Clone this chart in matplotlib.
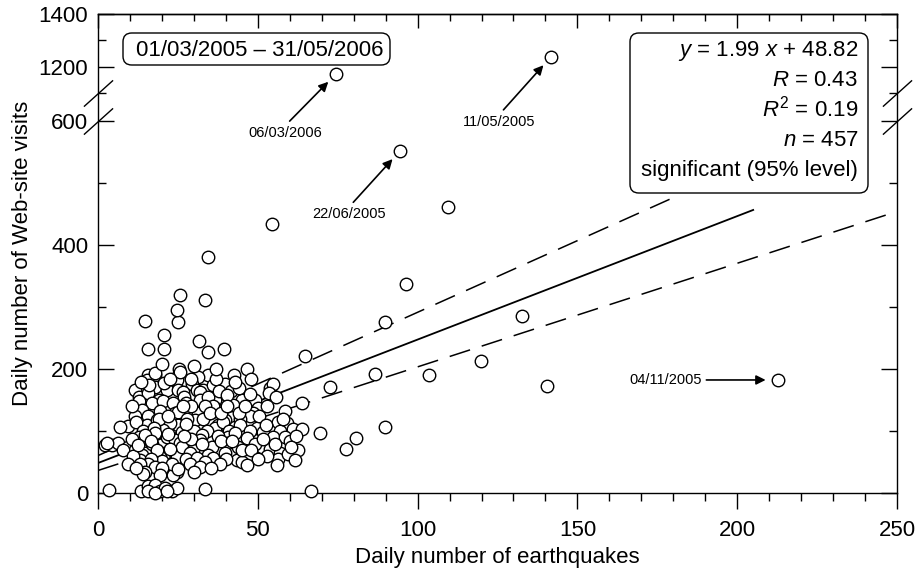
import numpy as np
import matplotlib.pyplot as plt
from matplotlib.patches import FancyBboxPatch

plt.rcParams['font.family'] = ['Liberation Sans', 'DejaVu Sans']
plt.rcParams['mathtext.fontset'] = 'custom'
plt.rcParams['mathtext.rm'] = 'Liberation Sans'
plt.rcParams['mathtext.it'] = 'Liberation Sans:italic'

# (daily earthquakes, daily web-site visits)
days = [
    # sparse / outliers
    (212.8, 182.7), (141.7, 1238), (74.5, 1174), (94.5, 552), (109.5, 462),
    (54.4, 434), (96.4, 338), (132.7, 286), (89.8, 276), (34.4, 381),
    (119.8, 213), (140.5, 173), (103.6, 191), (86.7, 192), (72.6, 172),
    (77.6, 71), (80.7, 89), (89.8, 107), (69.5, 97), (66.6, 4), (64.8, 222),
    # upper part of the cluster
    (14.7, 278), (25.1, 276), (24.6, 295), (25.7, 319), (33.5, 311),
    (20.5, 255), (15.5, 232), (20.7, 232), (31.6, 245), (34.5, 227),
    (39.5, 233), (46.5, 201),
    # 150-200
    (42.5, 190), (34.5, 190), (24.6, 188), (15.5, 190), (17.8, 191),
    (25.4, 200), (31.4, 188), (15.2, 183), (17.8, 194), (24.6, 183),
    (25.7, 196), (39.7, 177), (29.3, 177), (17.8, 172), (11.6, 167),
    (12.9, 156), (15.7, 161), (21.5, 167), (25.1, 167), (26.7, 163),
    (30.9, 167), (33.0, 167), (31.9, 163), (36.6, 150), (45.0, 151),
    (48.6, 149), (53.8, 169), (54.9, 177), (53.5, 162), (55.6, 156),
    (49.0, 150), (63.7, 146), (19.0, 150), (16.0, 175), (13.5, 180),
    (20.5, 178), (22.5, 185), (27.0, 155), (32.0, 150), (34.5, 155),
    (29.0, 185), (36.0, 175), (37.0, 185), (38.0, 165), (41.5, 165),
    (44.0, 170), (47.5, 160), (43.0, 180), (48.0, 185), (37.0, 200),
    (30.0, 205), (20.0, 208),
    # 100-150
    (12.9, 148), (16.8, 145), (20.4, 148), (23.6, 145), (13.7, 134),
    (19.4, 132), (24.1, 129), (11.6, 124), (15.7, 124), (28.3, 129),
    (25.1, 131), (31.4, 129), (36.6, 137), (36.1, 141), (42.3, 142),
    (50.2, 137), (48.6, 129), (47.6, 124), (58.5, 132), (39.7, 118),
    (42.9, 107), (49.7, 105), (37.6, 110), (36.6, 106), (39.2, 115),
    (56.4, 115), (59.0, 113), (61.1, 103), (63.7, 103), (9.5, 108),
    (15.2, 110), (6.9, 107), (21.0, 107), (25.1, 110), (22.5, 113),
    (28.8, 107), (20.4, 102), (26.2, 99.5), (51.7, 99), (18.5, 118),
    (30.5, 118), (44.5, 120), (33.5, 140), (27.5, 146), (40.5, 158),
    (10.5, 140), (12.0, 115), (14.0, 100), (19.0, 120), (17.5, 105),
    (29.0, 140), (28.0, 120), (33.0, 120), (35.0, 130), (30.0, 100),
    (34.0, 100), (26.5, 140), (22.0, 125), (27.5, 112), (38.5, 130),
    (40.5, 140), (44.0, 130), (46.0, 140), (41.0, 100), (44.5, 110),
    (47.5, 100), (50.5, 125), (52.5, 110), (57.0, 100), (58.0, 120),
    (53.0, 140),
    # 50-100
    (2.2, 78), (4.3, 78), (6.4, 81), (2.7, 81), (9.5, 75), (12.9, 91),
    (17.8, 97), (14.7, 94), (21.5, 91), (24.1, 86), (11.6, 70), (7.9, 70),
    (14.7, 64.5), (13.7, 62), (18.4, 59), (21.0, 64.5), (24.1, 64.5),
    (19.4, 59), (24.6, 59), (13.1, 54), (32.4, 94), (40.8, 91), (42.9, 97),
    (46.5, 89), (54.9, 91), (58.5, 91), (31.9, 86), (25.7, 81), (40.3, 81),
    (43.9, 75), (35.6, 75), (26.2, 75), (29.8, 70), (28.8, 64.5),
    (39.7, 64.5), (34.5, 62), (36.0, 57), (47.0, 59), (51.2, 75),
    (53.8, 72), (57.0, 65.5), (56.4, 56), (59.5, 63), (62.7, 70),
    (61.6, 54), (43.4, 54), (45.0, 50), (29.0, 88), (37.5, 92),
    (49.0, 80), (17.0, 80), (10.5, 88), (16.5, 85), (11.0, 60),
    (18.5, 70), (20.0, 52), (12.5, 78), (22.0, 95), (22.5, 72),
    (16.5, 55), (27.0, 92), (32.5, 80), (27.5, 55), (31.0, 57),
    (33.5, 50), (38.5, 85), (42.0, 85), (45.0, 70), (48.0, 70),
    (40.0, 55), (51.5, 88), (53.0, 60), (55.5, 80), (50.0, 55),
    (60.0, 85), (62.0, 92), (60.5, 75),
    # below 50
    (9.5, 48), (15.7, 48), (13.1, 47), (17.8, 43), (14.7, 35), (14.2, 31),
    (24.6, 35), (23.6, 30), (23.0, 48), (28.8, 48), (25.1, 39),
    (38.2, 48), (31.9, 43), (20.0, 40), (19.5, 30), (12.0, 40),
    (30.0, 35), (35.5, 40), (46.5, 45), (56.0, 45),
    # bottom row
    (3.5, 6), (13.5, 4), (15.7, 12), (17.8, 13), (19.4, 4), (21.0, 8),
    (23.0, 4), (24.6, 8), (33.5, 7), (15.7, 3), (17.8, 0.5), (21.5, 3),
]
quakes = np.array([d[0] for d in days])
visits = np.array([d[1] for d in days])

# regression and the dashed 95% bounds: slope, intercept, x end
fit_line = (1.99, 48.82, 205)
fit_upper = (2.31, 60.8, 179)
fit_lower = (1.67, 36.8, 250)

stats_lines = [r'$y$ = 1.99 $x$ + 48.82', r'$R$ = 0.43', r'$R^2$ = 0.19',
               r'$n$ = 457', 'significant (95% level)']
period = '01/03/2005 \u2013 31/05/2006'

# labelled days: text, point index, text position
labelled = [('06/03/2006', 2, (58.5, 581)), ('22/06/2005', 3, (78.5, 450)),
            ('11/05/2005', 1, (125.5, 599))]

# broken y axis: 0..621.5 at full scale, 1047..1400 squeezed on top
LOW_TOP, HIGH_BOT, SQUEEZE, GAP = 621.5, 1047.0, 0.427, 1e-3
D1 = LOW_TOP + (HIGH_BOT - LOW_TOP) * GAP


def fwd(y):
    y = np.asarray(y, dtype=float)
    mid = LOW_TOP + (y - LOW_TOP) * GAP
    top = D1 + (y - HIGH_BOT) * SQUEEZE
    return np.where(y <= LOW_TOP, y, np.where(y >= HIGH_BOT, top, mid))


def inv(d):
    d = np.asarray(d, dtype=float)
    mid = LOW_TOP + (d - LOW_TOP) / GAP
    top = HIGH_BOT + (d - D1) / SQUEEZE
    return np.where(d <= LOW_TOP, d, np.where(d >= D1, top, mid))


fig = plt.figure(figsize=(9.24, 5.73), dpi=100)
ax = fig.add_axes([98/924, 1-493.3/573, 799/924, 479.3/573])
ax.set_yscale('function', functions=(fwd, inv))
ax.set_xlim(0, 250)
ax.set_ylim(0, 1400)

for s, b, xe in (fit_upper, fit_lower):
    xx = np.array([0, xe])
    ax.plot(xx, s*xx + b, color='black', lw=1.1, ls=(0, (14, 8)), zorder=2)
xx = np.array([0, fit_line[2]])
ax.plot(xx, fit_line[0]*xx + fit_line[1], color='black', lw=1.3, zorder=2)

ax.plot(quakes, visits, 'o', ms=9, mfc='white', mec='black', mew=1.0,
        zorder=3, clip_on=False)

for txt, i, (tx, ty) in labelled:
    ax.annotate(txt, xy=(quakes[i], visits[i]), xytext=(tx, ty),
                ha='center', va='center', fontsize=10.5,
                arrowprops=dict(arrowstyle='-|>', color='black', lw=1.2,
                                mutation_scale=14, relpos=(0.5, 1.0),
                                shrinkA=2, shrinkB=8))
ax.annotate('04/11/2005', xy=(quakes[0], visits[0]), xytext=(177.7, visits[0]),
            ha='center', va='center', fontsize=10.5,
            arrowprops=dict(arrowstyle='-|>', color='black', lw=1.2,
                            mutation_scale=14, relpos=(1.0, 0.5),
                            shrinkA=1, shrinkB=9))

# ticks
ax.set_xticks(np.arange(0, 251, 50))
ax.set_xticks(np.arange(0, 251, 10), minor=True)
ax.set_xticklabels([str(v) for v in range(0, 251, 50)])
yt = [0, 200, 400, 600, 1200, 1400]
ax.set_yticks(yt)
ax.set_yticklabels([str(v) for v in yt])
ax.set_yticks([100, 300, 500, 1100, 1300], minor=True)
ax.tick_params(axis='y', which='both', direction='in', left=True, right=True,
               width=1.0, labelsize=16, pad=7)
ax.tick_params(axis='y', which='major', length=11.5)
ax.tick_params(axis='y', which='minor', length=6)
ax.tick_params(axis='x', which='both', direction='out', width=1.0,
               labelsize=16, pad=8)
ax.tick_params(axis='x', which='major', length=11.5)
ax.tick_params(axis='x', which='minor', length=5.5)
for sp in ax.spines.values():
    sp.set_linewidth(1.0)

top = ax.secondary_xaxis('top')
top.set_xticks(np.arange(0, 251, 50))
top.set_xticks(np.arange(0, 251, 10), minor=True)
top.tick_params(which='both', direction='in', labeltop=False, width=1.0)
top.tick_params(which='major', length=10)
top.tick_params(which='minor', length=5)
top.spines['top'].set_linewidth(1.0)

# break marks on both spines
ax.plot([0, 0, 1, 1], [600, 1100, 600, 1100], transform=ax.get_yaxis_transform(),
        ls='none', marker=[(-1, -0.9), (1, 0.9)], ms=21, mec='black', mew=1.0,
        clip_on=False, zorder=5)

ax.set_xlabel('Daily number of earthquakes', fontsize=16, labelpad=4)
ax.set_ylabel('Daily number of Web-site visits', fontsize=16, labelpad=4)

# text boxes
asp = 799/479.3
ax.add_patch(FancyBboxPatch((25/799, (493.3-65)/479.3), 267/799, 32/479.3,
             boxstyle='round,pad=0,rounding_size=0.011', mutation_aspect=asp,
             transform=ax.transAxes, fc='white', ec='black', lw=1.0, zorder=4))
ax.text((260-98)/799, (493.3-56)/479.3, period, transform=ax.transAxes,
        ha='center', va='baseline', fontsize=16, zorder=5)
ax.add_patch(FancyBboxPatch((532/799, (493.3-193)/479.3), 238/799, 160/479.3,
             boxstyle='round,pad=0,rounding_size=0.011', mutation_aspect=asp,
             transform=ax.transAxes, fc='white', ec='black', lw=1.0, zorder=4))
for k, line in enumerate(stats_lines):
    ax.text((858-98)/799, (493.3-56-30*k)/479.3, line, transform=ax.transAxes,
            ha='right', va='baseline', fontsize=16, zorder=5)

fig.savefig('out.png', dpi=100)
